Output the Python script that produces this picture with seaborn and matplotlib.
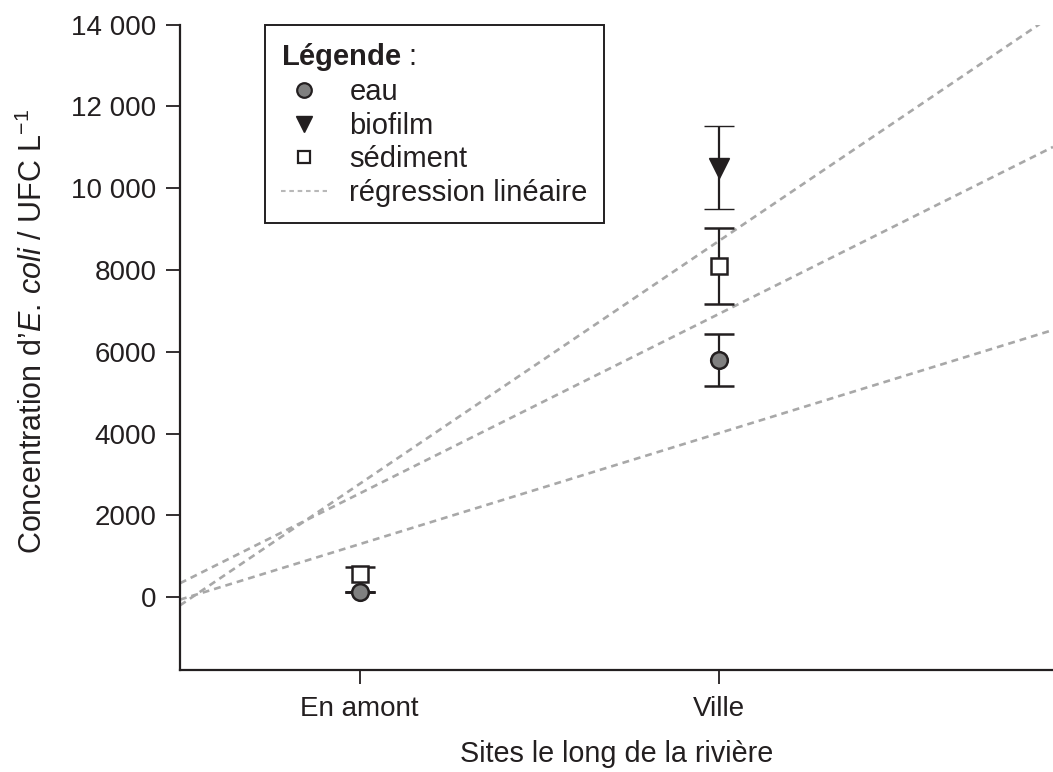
import numpy as np
import pandas as pd
import matplotlib
matplotlib.use("Agg")
import matplotlib.pyplot as plt
from matplotlib.lines import Line2D
import seaborn as sns

# Sites along the river
sites = ["En amont", "Ville"]
site_pos = [1, 2]

# E. coli concentrations (UFC/L) with lower / upper error bars
eau = [130, 5800]
eau_err_low = [0, 640]
eau_err_high = [0, 640]
biofilm = [np.nan, 10500]
biofilm_err_low = [np.nan, 1020]
biofilm_err_high = [np.nan, 1020]
sediment = [560, 8100]
sediment_err_low = [430, 920]
sediment_err_high = [175, 920]

# Linear regression lines (slope, intercept) on the site axis
reg_slopes = [5940, 4390, 2713]
reg_intercepts = [-3170, -1854, -1416]

y_ticks = [0, 2000, 4000, 6000, 8000, 10000, 12000, 14000]
y_ticklabels = ["0", "2000", "4000", "6000", "8000", "10 000", "12 000", "14 000"]

sns.set_theme(style="ticks")
plt.rcParams["font.family"] = ["Liberation Sans", "DejaVu Sans"]
plt.rcParams["mathtext.fontset"] = "custom"
plt.rcParams["mathtext.rm"] = "Liberation Sans"
plt.rcParams["mathtext.it"] = "Liberation Sans:italic"
plt.rcParams["mathtext.bf"] = "Liberation Sans:bold"

FS = 20

fig = plt.figure(figsize=(10.53, 7.72), dpi=100)
ax = fig.add_axes([180 / 1053, 1 - 670 / 772, 1 - 180 / 1053, (670 - 24.6) / 772])

xlim = (0.5, 2.93)
ylim = (-1780, 14000)

# Regression lines
line_color = "#a8a8a8"
dash = (0, (2.6, 1.9))
xs = np.array(xlim)
for s, b in zip(reg_slopes, reg_intercepts):
    reg_df = pd.DataFrame({"x": xs, "y": s * xs + b})
    sns.lineplot(data=reg_df, x="x", y="y", ax=ax, color=line_color,
                 linestyle=dash, linewidth=1.9, zorder=1)

ink = "#231f20"
err_kw = dict(ecolor=ink, elinewidth=1.6, capsize=11, capthick=1.6, linestyle="none")

ax.errorbar(site_pos, sediment, yerr=[sediment_err_low, sediment_err_high],
            marker="s", markersize=11.5, markerfacecolor="white",
            markeredgecolor=ink, markeredgewidth=1.8, zorder=3, **err_kw)
ax.errorbar(site_pos, eau, yerr=[eau_err_low, eau_err_high], marker="o",
            markersize=12, markerfacecolor="#808080", markeredgecolor=ink,
            markeredgewidth=1.8, zorder=4, **err_kw)
ax.errorbar(site_pos, biofilm, yerr=[biofilm_err_low, biofilm_err_high],
            marker="v", markersize=15, markerfacecolor=ink, markeredgecolor=ink,
            markeredgewidth=1, zorder=4, **err_kw)

ax.set_xlim(*xlim)
ax.set_ylim(*ylim)
ax.set_xticks(site_pos)
ax.set_xticklabels(sites)
ax.set_yticks(y_ticks)
ax.set_yticklabels(y_ticklabels)

for side in ["top", "right"]:
    ax.spines[side].set_visible(False)
for side in ["left", "bottom"]:
    ax.spines[side].set_color(ink)
    ax.spines[side].set_linewidth(1.6)
ax.spines["left"].set_bounds(ylim[0], 14000)

ax.tick_params(axis="both", colors=ink, labelcolor=ink, length=10, width=1.3,
               direction="out", labelsize=FS)
ax.tick_params(axis="y", pad=7)
ax.tick_params(axis="x", pad=9)

ax.set_xlabel("Sites le long de la rivière", fontsize=20.7, color=ink, labelpad=13)
ax.set_ylabel("Concentration d’$\\mathit{E.\\,coli}$ / UFC L$^{-1}$",
              fontsize=22, color=ink)
ax.yaxis.set_label_coords(-0.15, 0.525)

handles = [
    Line2D([], [], marker="o", markersize=10.5, markerfacecolor="#808080",
           markeredgecolor=ink, markeredgewidth=1.6, linestyle="none"),
    Line2D([], [], marker="v", markersize=12, markerfacecolor=ink,
           markeredgecolor=ink, linestyle="none"),
    Line2D([], [], marker="s", markersize=9, markerfacecolor="white",
           markeredgecolor=ink, markeredgewidth=1.6, linestyle="none"),
    Line2D([], [], color="#b8b8b8", linestyle=(0, (2.2, 1.8)), linewidth=1.5),
]
labels = ["eau", "biofilm", "sédiment", "régression linéaire"]
leg = ax.legend(handles, labels, loc="upper left", bbox_to_anchor=(0.097, 1.0),
                title="$\\mathbf{Légende}$ :", title_fontsize=21, fontsize=21,
                alignment="left", frameon=True, fancybox=False, framealpha=1,
                edgecolor=ink, handlelength=1.6, handletextpad=0.75,
                labelspacing=0.19, borderpad=0.55, borderaxespad=0)
leg.get_frame().set_linewidth(1.4)
for t in leg.get_texts():
    t.set_color(ink)
leg.get_title().set_color(ink)

fig.savefig("out.png", dpi=100)
